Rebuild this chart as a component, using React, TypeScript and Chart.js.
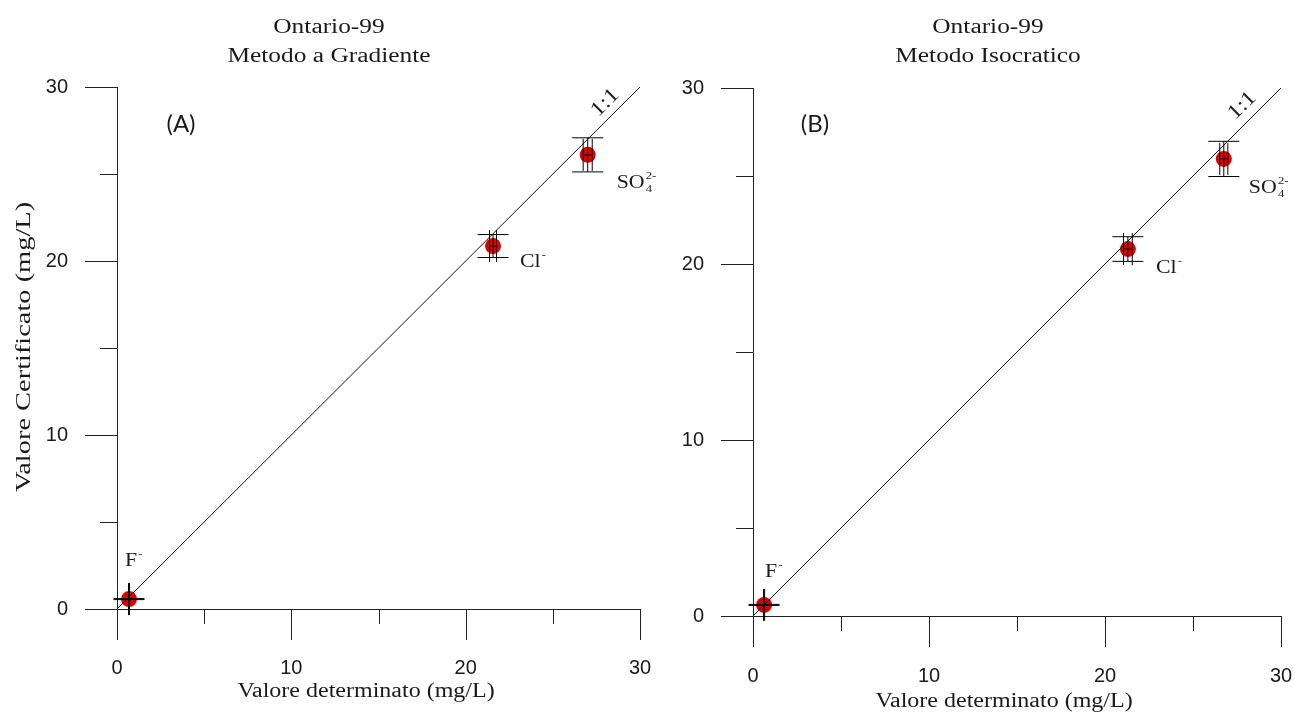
import { useEffect, useRef } from 'react';
import { Chart, registerables } from 'chart.js';

Chart.register(...registerables);

// ---------- data ----------
const ionNames = ['F', 'Cl', 'SO'];
const ionSub = ['', '', '4'];
const ionSup = ['-', '-', '2-'];

const determinedA = [0.69, 21.57, 27.0];
const certifiedA = [0.57, 20.86, 26.1];
const xErrA = [0.03, 0.2, 0.26];
const yErrA = [0.03, 0.66, 0.98];

const determinedB = [0.63, 21.3, 26.75];
const certifiedB = [0.63, 20.85, 25.97];
const xErrB = [0.03, 0.25, 0.23];
const yErrB = [0.03, 0.7, 1.0];

const oneToOne = [0, 30];
const tickValues = [0, 5, 10, 15, 20, 25, 30];

const titleA = ['Ontario-99', 'Metodo a Gradiente'];
const titleB = ['Ontario-99', 'Metodo Isocratico'];
const xTitle = 'Valore determinato (mg/L)';
const yTitle = 'Valore Certificato (mg/L)';

// ---------- layout ----------
const H = 713;
const SERIF = '"Liberation Serif", "Times New Roman", serif';
const SANS = '"Liberation Sans", Arial, sans-serif';
const TXT = '#1a1a1a';
const SX = 1.27;

type Panel = {
  left: number;
  width: number;
  area: { left: number; top: number; right: number; bottom: number };
  det: number[];
  cert: number[];
  xErr: number[];
  yErr: number[];
  title: string[];
  titleX: number;
  tag: string;
  tagX: number;
  xTitleX: number;
  xTitleY: number;
  showYTitle: boolean;
  ionOffsets: number[][];
  ratioPos: number[];
  labelPad: number;
};

const panels: Panel[] = [
  {
    left: 0,
    width: 660,
    area: { left: 117, top: 87, right: 640, bottom: 609 },
    det: determinedA,
    cert: certifiedA,
    xErr: xErrA,
    yErr: yErrA,
    title: titleA,
    titleX: 329,
    tag: '(A)',
    tagX: 181,
    xTitleX: 366,
    xTitleY: 692,
    showYTitle: true,
    ionOffsets: [[-4, -38], [27, 16], [29, 28]],
    ratioPos: [28.0, 29.1],
    labelPad: 47,
  },
  {
    left: 660,
    width: 635,
    area: { left: 93, top: 88, right: 621, bottom: 616 },
    det: determinedB,
    cert: certifiedB,
    xErr: xErrB,
    yErr: yErrB,
    title: titleB,
    titleX: 328,
    tag: '(B)',
    tagX: 155,
    xTitleX: 344,
    xTitleY: 702,
    showYTitle: false,
    ionOffsets: [[1, -33], [28, 19], [25, 29]],
    ratioPos: [27.8, 29.0],
    labelPad: 48,
  },
];

function line(ctx: CanvasRenderingContext2D, x1: number, y1: number, x2: number, y2: number) {
  ctx.beginPath();
  ctx.moveTo(x1, y1);
  ctx.lineTo(x2, y2);
  ctx.stroke();
}

function stretched(ctx: CanvasRenderingContext2D, text: string, x: number, y: number, align: CanvasTextAlign, sx = SX) {
  ctx.save();
  ctx.translate(x, y);
  ctx.scale(sx, 1);
  ctx.textAlign = align;
  ctx.fillText(text, 0, 0);
  ctx.restore();
}

function makePlugin(p: Panel) {
  return {
    id: 'panelDecor',
    afterDatasetsDraw(chart: any) {
      const { ctx } = chart;
      const xs = chart.scales.x;
      const ys = chart.scales.y;
      ctx.save();
      ctx.strokeStyle = '#000';
      ctx.lineWidth = 1;
      p.det.forEach((dx, i) => {
        const cx = xs.getPixelForValue(dx);
        const cy = ys.getPixelForValue(p.cert[i]);
        const yT = ys.getPixelForValue(p.cert[i] + p.yErr[i]);
        const yB = ys.getPixelForValue(p.cert[i] - p.yErr[i]);
        const xL = xs.getPixelForValue(dx - p.xErr[i]);
        const xR = xs.getPixelForValue(dx + p.xErr[i]);
        // vertical error bar
        line(ctx, cx, yT, cx, yB);
        line(ctx, cx - 15.5, yT, cx + 15.5, yT);
        line(ctx, cx - 15.5, yB, cx + 15.5, yB);
        // horizontal error bar
        line(ctx, xL, cy, xR, cy);
        line(ctx, xL, cy - 16, xL, cy + 16);
        line(ctx, xR, cy - 16, xR, cy + 16);
      });
      ctx.restore();
    },
    afterDraw(chart: any) {
      const { ctx, chartArea } = chart;
      const xs = chart.scales.x;
      const ys = chart.scales.y;
      ctx.save();
      ctx.strokeStyle = '#222';
      ctx.lineWidth = 1;
      // tick marks (major / minor)
      tickValues.forEach((v) => {
        const major = v % 10 === 0;
        const px = Math.round(xs.getPixelForValue(v)) + 0.5;
        line(ctx, px, chartArea.bottom, px, chartArea.bottom + (major ? 31 : 15));
        const py = Math.round(ys.getPixelForValue(v)) + 0.5;
        line(ctx, chartArea.left, py, chartArea.left - (major ? 32 : 17), py);
      });

      ctx.fillStyle = TXT;
      ctx.textBaseline = 'middle';
      // titles
      ctx.font = `20px ${SERIF}`;
      stretched(ctx, p.title[0], p.titleX, 28, 'center');
      stretched(ctx, p.title[1], p.titleX, 57, 'center');
      // x title
      ctx.font = `20px ${SERIF}`;
      stretched(ctx, xTitle, p.xTitleX, p.xTitleY, 'center', 1.2);
      // y title
      if (p.showYTitle) {
        ctx.save();
        ctx.translate(24, 347);
        ctx.rotate(-Math.PI / 2);
        ctx.scale(1.42, 1.08);
        ctx.textAlign = 'center';
        ctx.font = `20px ${SERIF}`;
        ctx.fillText(yTitle, 0, 0);
        ctx.restore();
      }
      // panel tag
      ctx.font = `24px Lato, "Open Sans", sans-serif`;
      ctx.textAlign = 'center';
      ctx.fillText(p.tag, p.tagX, 124);

      // 1:1 label
      const a0x = xs.getPixelForValue(oneToOne[0]);
      const a0y = ys.getPixelForValue(oneToOne[0]);
      const a1x = xs.getPixelForValue(oneToOne[1]);
      const a1y = ys.getPixelForValue(oneToOne[1]);
      const ang = Math.atan2(a1y - a0y, a1x - a0x);
      ctx.save();
      ctx.translate(xs.getPixelForValue(p.ratioPos[0]), ys.getPixelForValue(p.ratioPos[1]));
      ctx.rotate(ang);
      ctx.scale(1.2, 1.05);
      ctx.font = `20px ${SERIF}`;
      ctx.textAlign = 'center';
      ctx.fillText('1:1', 0, 0);
      ctx.restore();

      // ion labels
      p.det.forEach((dx, i) => {
        const cx = xs.getPixelForValue(dx) + p.ionOffsets[i][0];
        const cy = ys.getPixelForValue(p.cert[i]) + p.ionOffsets[i][1];
        ctx.save();
        ctx.translate(cx, cy);
        ctx.scale(1.15, 1);
        ctx.textAlign = 'left';
        ctx.font = `19px ${SERIF}`;
        ctx.fillText(ionNames[i], 0, 0);
        const w = ctx.measureText(ionNames[i]).width;
        ctx.font = `11px ${SERIF}`;
        if (ionSub[i]) ctx.fillText(ionSub[i], w + 1, 6);
        if (ionSup[i]) ctx.fillText(ionSup[i], w + 1, -7);
        ctx.restore();
      });
      ctx.restore();
    },
  };
}

function PanelChart({ p }: { p: Panel }) {
  const ref = useRef<HTMLCanvasElement | null>(null);
  useEffect(() => {
    if (!ref.current) return;
    const tickFont = { family: SANS, size: 20 };
    const chart = new Chart(ref.current, {
      type: 'scatter',
      data: {
        datasets: [
          {
            type: 'line',
            data: oneToOne.map((v) => ({ x: v, y: v })),
            borderColor: '#111',
            borderWidth: 1,
            pointRadius: 0,
            fill: false,
            order: 0,
          } as any,
          {
            data: p.det.map((x, i) => ({ x, y: p.cert[i] })),
            backgroundColor: '#e00000',
            borderColor: '#e00000',
            pointRadius: 8,
            pointBorderWidth: 0,
            order: 1,
          },
        ],
      },
      options: {
        responsive: false,
        animation: false,
        devicePixelRatio: 1,
        clip: false as any,
        layout: {
          padding: { top: p.area.top, right: p.width - p.area.right, left: 0, bottom: 0 },
        },
        plugins: {
          legend: { display: false },
          tooltip: { enabled: false },
          title: { display: false },
        },
        scales: {
          x: {
            type: 'linear',
            min: 0,
            max: 30,
            ticks: { stepSize: 10, font: tickFont, color: TXT, padding: p.labelPad, maxRotation: 0 },
            grid: { display: false, drawTicks: false },
            border: { display: true, color: '#222', width: 1 },
            afterFit: (s: any) => {
              s.height = H - p.area.bottom;
              s.paddingLeft = 12;
              s.paddingRight = 12;
            },
          },
          y: {
            type: 'linear',
            min: 0,
            max: 30,
            ticks: { stepSize: 10, font: tickFont, color: TXT, padding: 49 },
            grid: { display: false, drawTicks: false },
            border: { display: true, color: '#222', width: 1 },
            afterFit: (s: any) => {
              s.width = p.area.left;
              s.paddingTop = 12;
              s.paddingBottom = 12;
            },
          },
        },
      },
      plugins: [makePlugin(p)],
    });
    return () => chart.destroy();
  }, [p]);
  return (
    <canvas
      ref={ref}
      width={p.width}
      height={H}
      style={{ position: 'absolute', left: p.left, top: 0, width: p.width, height: H }}
    />
  );
}

export default function App() {
  return (
    <div style={{ position: 'fixed', left: 0, top: 0, width: 1295, height: H, background: '#fff', overflow: 'hidden' }}>
      {panels.map((p, i) => (
        <PanelChart key={i} p={p} />
      ))}
    </div>
  );
}
